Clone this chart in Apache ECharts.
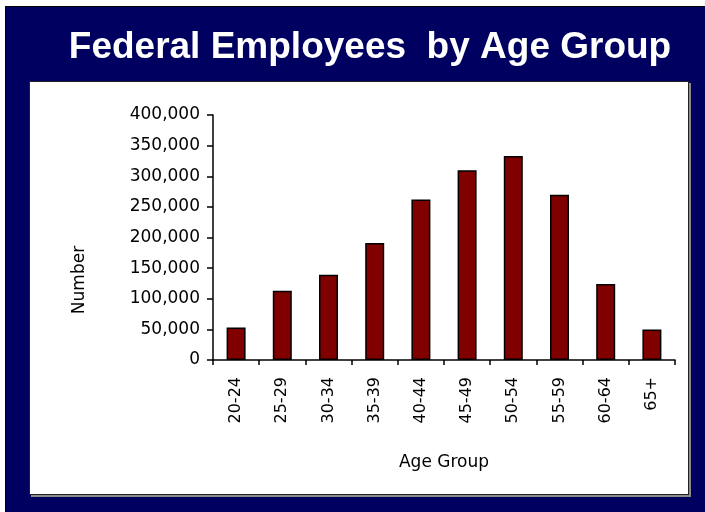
<!DOCTYPE html>
<html>
<head>
<meta charset="utf-8">
<script src="https://cdn.jsdelivr.net/npm/echarts@6/dist/echarts.min.js"></script>
<style>
    body { margin: 0; background: #fff; }
    .frame {
        position: absolute; left: 5px; top: 6px; width: 700px; height: 506px;
        background: #000060; border-left: 1px solid #000; border-top: 1px solid #000;
        box-sizing: border-box;
    }
    .panel {
        position: absolute; left: 29px; top: 81px; width: 660px; height: 414px;
        background: #fff; border: 1px solid #222; box-sizing: border-box;
        box-shadow: 2px 2px 0 #8a8a8a;
    }
    #chart { position: absolute; left: 0; top: 0; width: 705px; height: 512px; }
</style>
</head>
<body>
<div class="frame"></div>
<div class="panel"></div>
<div id="chart"></div>
<script>
    // age groups and head counts
    var ageGroups = ['20-24', '25-29', '30-34', '35-39', '40-44', '45-49', '50-54', '55-59', '60-64', '65+']
    var employees = [53000, 113000, 139000, 191000, 262000, 310000, 333000, 270000, 124000, 50000]
    var yTicks = { min: 0, max: 400000, step: 50000 }

    var labelFont = 'DejaVu Sans'
    var myChart = echarts.init(document.getElementById('chart'))

    var options = {
        backgroundColor: 'transparent',
        animation: false,
        title: {
            text: 'Federal Employees  by Age Group',
            left: 365,
            top: 24,
            textAlign: 'center',
            textStyle: {
                color: '#fff',
                fontFamily: 'Liberation Sans',
                fontWeight: 'bold',
                fontSize: 37
            }
        },
        grid: {
            left: 213,
            right: 30,
            top: 115,
            bottom: 152
        },
        xAxis: {
            type: 'category',
            data: ageGroups,
            name: 'Age Group',
            nameLocation: 'middle',
            nameGap: 94,
            nameTextStyle: { color: '#000', fontFamily: labelFont, fontSize: 17 },
            axisLine: { lineStyle: { color: '#000', width: 1.5 } },
            axisTick: { show: true, length: 5, lineStyle: { color: '#000', width: 1.5 } },
            axisLabel: {
                rotate: 90,
                margin: 17,
                color: '#000',
                fontFamily: labelFont,
                fontSize: 16
            }
        },
        yAxis: {
            type: 'value',
            min: yTicks.min,
            max: yTicks.max,
            interval: yTicks.step,
            axisLine: { show: true, lineStyle: { color: '#000', width: 1.5 } },
            axisTick: { show: true, length: 6, lineStyle: { color: '#000', width: 1.5 } },
            splitLine: { show: false },
            axisLabel: {
                margin: 13,
                color: '#000',
                fontFamily: labelFont,
                fontSize: 17,
                formatter: function (v) { return v.toLocaleString('en-US') }
            }
        },
        graphic: [
            {
                type: 'text',
                x: 80,
                y: 280,
                rotation: Math.PI / 2,
                style: {
                    text: 'Number',
                    fill: '#000',
                    font: '17px "DejaVu Sans"',
                    align: 'center',
                    verticalAlign: 'middle'
                }
            }
        ],
        series: [
            {
                type: 'bar',
                data: employees,
                barWidth: 19,
                itemStyle: {
                    color: '#800000',
                    borderColor: '#000',
                    borderWidth: 1.5
                }
            }
        ]
    }

    myChart.setOption(options)
    window.addEventListener('resize', myChart.resize)
</script>
</body>
</html>
